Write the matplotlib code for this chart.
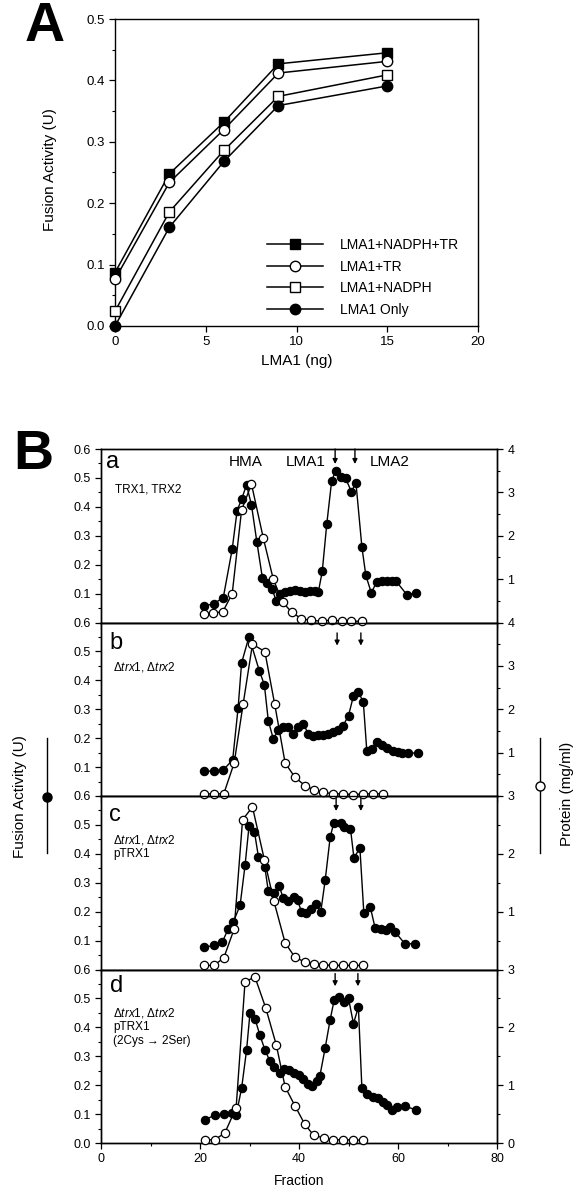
import matplotlib
matplotlib.use('Agg')
import matplotlib.pyplot as plt
from matplotlib.ticker import MultipleLocator, FixedLocator

plt.rcParams['font.family'] = ['Liberation Sans', 'DejaVu Sans']
plt.rcParams['mathtext.fontset'] = 'custom'
plt.rcParams['mathtext.rm'] = 'Liberation Sans'
plt.rcParams['mathtext.it'] = 'Liberation Sans:italic'

# ---------------- Panel A data ----------------
lma1_ng = [0, 3, 6, 9, 15]
act_nadph_tr = [0.087, 0.248, 0.332, 0.427, 0.445]
act_tr = [0.076, 0.234, 0.320, 0.412, 0.431]
act_nadph = [0.024, 0.186, 0.286, 0.374, 0.409]
act_only = [0.0, 0.161, 0.268, 0.359, 0.391]
legend_labels = ['LMA1+NADPH+TR', 'LMA1+TR', 'LMA1+NADPH', 'LMA1 Only']

# ---------------- Panel B data ----------------
# a: TRX1, TRX2
fus_a_frac = [20.8, 22.8, 24.7, 26.5, 27.5, 28.4, 29.4, 30.4, 31.5, 32.6, 33.5, 34.5, 35.4, 36.2, 37.2,
              38.2, 39.2, 40.2, 41.2, 42.2, 43.2, 43.9, 44.7, 45.6, 46.6, 47.4, 48.4, 49.4, 50.6, 51.5,
              52.7, 53.5, 54.6, 55.7, 56.7, 57.7, 58.7, 59.6, 61.8, 63.6]
fus_a = [0.057, 0.065, 0.086, 0.253, 0.387, 0.426, 0.476, 0.406, 0.277, 0.155, 0.137, 0.117, 0.076, 0.100,
         0.105, 0.109, 0.113, 0.108, 0.105, 0.109, 0.109, 0.105, 0.177, 0.339, 0.490, 0.525, 0.502, 0.499,
         0.452, 0.484, 0.262, 0.163, 0.103, 0.140, 0.143, 0.143, 0.143, 0.143, 0.096, 0.102]
prot_a_frac = [20.8, 22.7, 24.6, 26.5, 28.4, 30.4, 32.8, 34.8, 36.7, 38.5, 40.5, 42.5, 44.6, 46.6, 48.6,
               50.6, 52.7]
prot_a = [0.20, 0.22, 0.25, 0.66, 2.59, 3.19, 1.94, 1.00, 0.47, 0.24, 0.085, 0.05, 0.03, 0.06, 0.03,
          0.03, 0.03]

# b: delta trx1, delta trx2
fus_b_frac = [20.8, 22.8, 24.7, 26.6, 27.7, 28.4, 29.9, 32.0, 33.0, 33.8, 34.8, 35.8, 36.7, 37.7, 38.7,
              39.7, 40.9, 41.9, 42.9, 43.9, 44.9, 45.9, 46.9, 47.9, 48.9, 50.0, 51.0, 52.0, 53.0, 53.7,
              54.7, 55.8, 56.8, 57.8, 58.9, 59.9, 60.9, 62.1, 64.0]
fus_b = [0.086, 0.086, 0.090, 0.125, 0.305, 0.460, 0.551, 0.432, 0.385, 0.260, 0.198, 0.227, 0.238, 0.240,
         0.215, 0.238, 0.250, 0.213, 0.208, 0.210, 0.210, 0.215, 0.220, 0.228, 0.243, 0.278, 0.346, 0.360,
         0.324, 0.155, 0.163, 0.186, 0.178, 0.165, 0.157, 0.152, 0.149, 0.147, 0.150]
prot_b_frac = [20.8, 22.8, 24.8, 26.9, 28.7, 30.6, 33.1, 35.1, 37.2, 39.2, 41.2, 43.0, 44.9, 46.9, 48.9,
               51.0, 53.0, 55.0, 56.9]
prot_b = [0.05, 0.05, 0.05, 0.76, 2.11, 3.50, 3.33, 2.11, 0.76, 0.43, 0.24, 0.14, 0.085, 0.05, 0.05,
          0.03, 0.05, 0.05, 0.05]

# c: delta trx1, delta trx2, pTRX1
fus_c_frac = [20.8, 22.8, 24.5, 25.7, 26.7, 28.1, 29.1, 29.9, 31.0, 31.8, 33.1, 33.8, 34.9, 36.0, 36.8,
              37.8, 38.9, 39.7, 40.5, 41.4, 42.4, 43.4, 44.4, 45.3, 46.3, 47.0, 48.4, 49.1, 50.4, 51.1,
              52.3, 53.1, 54.4, 55.4, 56.5, 57.5, 58.4, 59.4, 61.4, 63.4]
fus_c = [0.077, 0.083, 0.095, 0.140, 0.163, 0.222, 0.360, 0.495, 0.476, 0.390, 0.355, 0.270, 0.266, 0.288,
         0.248, 0.237, 0.250, 0.240, 0.200, 0.195, 0.210, 0.225, 0.200, 0.310, 0.458, 0.505, 0.508, 0.493,
         0.487, 0.385, 0.421, 0.195, 0.216, 0.142, 0.140, 0.135, 0.148, 0.130, 0.089, 0.089]
prot_c_frac = [20.8, 22.8, 24.8, 26.9, 28.6, 30.6, 33.0, 34.9, 37.2, 39.2, 41.2, 43.0, 44.9, 46.9, 48.9,
               51.0, 53.0]
prot_c = [0.07, 0.07, 0.20, 0.70, 2.59, 2.81, 1.90, 1.19, 0.46, 0.21, 0.13, 0.10, 0.08, 0.07, 0.07,
          0.07, 0.07]

# d: delta trx1, delta trx2, pTRX1 (2Cys -> 2Ser)
fus_d_frac = [21.0, 23.0, 24.8, 26.4, 27.3, 28.4, 29.4, 30.1, 31.1, 32.1, 33.1, 34.1, 35.0, 36.2, 37.0,
              38.0, 38.9, 39.9, 40.9, 41.9, 42.6, 43.6, 44.2, 45.3, 46.3, 47.1, 48.1, 49.1, 50.0, 51.0,
              52.0, 52.7, 53.7, 54.9, 56.0, 56.9, 57.7, 58.7, 59.7, 61.4, 63.6]
fus_d = [0.081, 0.096, 0.099, 0.104, 0.096, 0.189, 0.320, 0.450, 0.430, 0.373, 0.323, 0.284, 0.263, 0.243,
         0.257, 0.254, 0.243, 0.234, 0.220, 0.205, 0.196, 0.215, 0.230, 0.330, 0.427, 0.494, 0.505, 0.488,
         0.500, 0.413, 0.470, 0.191, 0.170, 0.160, 0.157, 0.142, 0.130, 0.115, 0.125, 0.127, 0.115]
prot_d_frac = [21.0, 23.0, 25.0, 27.3, 29.1, 31.1, 33.3, 35.4, 37.2, 39.2, 41.2, 43.0, 45.0, 46.9, 48.9,
               51.0, 53.0]
prot_d = [0.05, 0.06, 0.17, 0.61, 2.79, 2.87, 2.33, 1.70, 0.97, 0.64, 0.32, 0.13, 0.09, 0.05, 0.06,
          0.05, 0.05]

panel_letters = ['a', 'b', 'c', 'd']
panel_notes = ['TRX1, TRX2',
               'Δ$\\mathit{trx}$1, Δ$\\mathit{trx}$2',
               'Δ$\\mathit{trx}$1, Δ$\\mathit{trx}$2\npTRX1',
               'Δ$\\mathit{trx}$1, Δ$\\mathit{trx}$2\npTRX1\n(2Cys → 2Ser)']
protein_max = [4, 4, 3, 3]
arrow_fracs = [(47.3, 51.3), (47.7, 52.5), (47.5, 52.5), (47.3, 51.9)]
peak_names = ['HMA', 'LMA1', 'LMA2']

W, H = 584, 1199
fig = plt.figure(figsize=(W / 100, H / 100), dpi=100)


def rect(l, t, r, b):
    return [l / W, 1 - b / H, (r - l) / W, (b - t) / H]


def ftext(x, y, s, **kw):
    fig.text(x / W, 1 - y / H, s, **kw)


LW = 1.0

# ---------------- Panel A ----------------
axA = fig.add_axes(rect(115, 19, 478, 326))
series = [(act_nadph_tr, 's', 'black'), (act_tr, 'o', 'white'),
          (act_nadph, 's', 'white'), (act_only, 'o', 'black')]
for (vals, mk, fc), lab in zip(series, legend_labels):
    axA.plot(lma1_ng, vals, '-', color='black', lw=1.1, marker=mk, mfc=fc, mec='black',
             ms=7.5 if mk == 's' else 7.5, mew=1.0, clip_on=False, label=lab, zorder=3)
axA.set_xlim(0, 20)
axA.set_ylim(0, 0.5)
axA.set_xticks([0, 5, 10, 15, 20])
axA.set_yticks([0, 0.1, 0.2, 0.3, 0.4, 0.5])
axA.set_yticklabels(['0.0', '0.1', '0.2', '0.3', '0.4', '0.5'])
axA.yaxis.set_minor_locator(MultipleLocator(0.05))
axA.tick_params(which='major', direction='out', length=4, width=0.9, labelsize=9.5)
axA.tick_params(which='minor', direction='out', length=2.5, width=0.8)
for s in axA.spines.values():
    s.set_linewidth(1.0)
axA.set_xlabel('LMA1 (ng)', fontsize=11, labelpad=4)
ftext(50, 170, 'Fusion Activity (U)', rotation=90, ha='center', va='center', fontsize=11)
leg = axA.legend(loc='lower left', bbox_to_anchor=(0.42, 0.03), frameon=False, fontsize=10,
                 handlelength=4.0, handletextpad=1.2, labelspacing=0.55, borderpad=0, borderaxespad=0)
ftext(45, 27, 'A', fontsize=40, fontweight='bold', ha='center', va='center')

# ---------------- Panel B ----------------
tops = [449, 622.5, 796, 969.5]
hgt = 173.5
fus_fracs = [fus_a_frac, fus_b_frac, fus_c_frac, fus_d_frac]
fus_vals = [fus_a, fus_b, fus_c, fus_d]
prot_fracs = [prot_a_frac, prot_b_frac, prot_c_frac, prot_d_frac]
prot_vals = [prot_a, prot_b, prot_c, prot_d]

letter_pos = [(113, 462), (116, 643), (115, 815), (117, 986)]
note_pos = [(115, 484), (113, 660), (113, 833), (113, 1006)]
arrow_y = [(0.60, 0.548), (0.564, 0.520), (0.594, 0.548), (0.586, 0.542)]

for i in range(4):
    t = tops[i]
    ax = fig.add_axes(rect(101, t, 497, t + hgt))
    ax2 = ax.twinx()
    ax.plot(fus_fracs[i], fus_vals[i], '-', color='black', lw=LW, marker='o', mfc='black',
            mec='black', ms=6, mew=0.8, zorder=3)
    ax2.plot(prot_fracs[i], prot_vals[i], '-', color='black', lw=LW, marker='o', mfc='white',
             mec='black', ms=6, mew=0.9, zorder=4, clip_on=False)
    ax.set_xlim(0, 80)
    ax.set_ylim(0, 0.6)
    ax2.set_ylim(0, protein_max[i])
    ax.xaxis.set_major_locator(FixedLocator([0, 20, 40, 60, 80]))
    ax.xaxis.set_minor_locator(FixedLocator([10, 30, 50, 70]))
    if i < 3:
        ax.set_yticks([0.1, 0.2, 0.3, 0.4, 0.5, 0.6])
        ax.set_xticklabels([])
    else:
        ax.set_yticks([0.0, 0.1, 0.2, 0.3, 0.4, 0.5, 0.6])
        ax.set_xlabel('Fraction', fontsize=10, labelpad=6)
    ax.yaxis.set_major_formatter(matplotlib.ticker.FormatStrFormatter('%.1f'))
    ax.yaxis.set_minor_locator(MultipleLocator(0.05))
    pmax = protein_max[i]
    if i == 3:
        ax2.set_yticks(list(range(0, pmax + 1)))
    else:
        ax2.set_yticks(list(range(1, pmax + 1)))
    ax2.yaxis.set_minor_locator(MultipleLocator(0.5))
    for a_ in (ax, ax2):
        a_.tick_params(which='major', direction='out', length=4, width=0.9, labelsize=9)
        a_.tick_params(which='minor', direction='out', length=2.5, width=0.8)
        for s in a_.spines.values():
            s.set_linewidth(1.0)
    ax.set_zorder(1)
    ax2.set_zorder(2)
    ax.patch.set_visible(True)
    ax2.patch.set_visible(False)

    # arrows marking LMA1 / LMA2
    for af in arrow_fracs[i]:
        ax.annotate('', xy=(af, arrow_y[i][1]), xytext=(af, arrow_y[i][0]),
                    arrowprops=dict(arrowstyle='-|>', color='black', lw=1.0,
                                    mutation_scale=7, shrinkA=0, shrinkB=0),
                    annotation_clip=False)

    lx, ly = letter_pos[i]
    ftext(lx, ly, panel_letters[i], fontsize=17, ha='center', va='center')
    nx, ny = note_pos[i]
    ftext(nx, ny, panel_notes[i], fontsize=8.5, ha='left', va='top', linespacing=1.15)

# peak names in panel a
ftext(246, 462, peak_names[0], fontsize=11, ha='center', va='center')
ftext(306, 462, peak_names[1], fontsize=11, ha='center', va='center')
ftext(390, 462, peak_names[2], fontsize=11, ha='center', va='center')

# side labels with symbol keys
ftext(20, 797, 'Fusion Activity (U)', rotation=90, ha='center', va='center', fontsize=11)
fig.add_artist(matplotlib.lines.Line2D([47 / W, 47 / W], [1 - 738 / H, 1 - 853 / H],
                                       color='black', lw=1.0))
fig.add_artist(matplotlib.lines.Line2D([47 / W], [1 - 797 / H], marker='o', ms=6.5,
                                       mfc='black', mec='black', lw=0))
ftext(567, 794, 'Protein (mg/ml)', rotation=90, ha='center', va='center', fontsize=11)
fig.add_artist(matplotlib.lines.Line2D([540 / W, 540 / W], [1 - 738 / H, 1 - 853 / H],
                                       color='black', lw=1.0))
fig.add_artist(matplotlib.lines.Line2D([540 / W], [1 - 786 / H], marker='o', ms=6.5,
                                       mfc='white', mec='black', mew=1.0, lw=0))

ftext(33, 455, 'B', fontsize=40, fontweight='bold', ha='center', va='center')

fig.savefig('out.png', dpi=100, facecolor='white')
